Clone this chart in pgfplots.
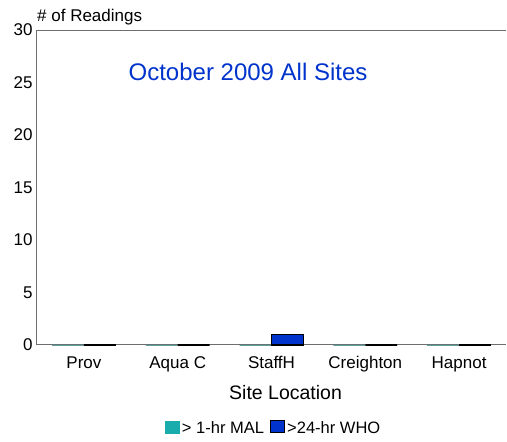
\documentclass[border=0pt]{standalone}
\usepackage{pgfplots}
\pgfplotsset{compat=1.18}
\usepackage{fontspec}
\setmainfont{Liberation Sans}
\definecolor{tealc}{RGB}{26,172,172}
\definecolor{bluec}{RGB}{0,51,204}
\definecolor{axgray}{RGB}{110,110,110}
\begin{document}
\begin{tikzpicture}[x=1pt,y=1pt]
\useasboundingbox (0,0) rectangle (507,442);
\begin{axis}[
  at={(37pt,97pt)}, anchor=south west,
  scale only axis, width=469pt, height=315pt,
  xmin=-0.5, xmax=4.5, ymin=0, ymax=30,
  ytick={0,5,...,30},
  xtick={0,1,2,3,4},
  xticklabels={Prov,Aqua C,StaffH,Creighton,Hapnot},
  major tick length=0pt,
  axis x line*=bottom, axis y line*=left,
  axis line style={draw=axgray, line width=1pt, -},
  tick label style={font=\fontsize{17}{19}\selectfont},
  /pgf/number format/assume math mode=true,
  yticklabel style={xshift=-1pt},
  xticklabel style={yshift=-8pt},
  xlabel={Site Location},
  xlabel style={font=\fontsize{19.5}{22}\selectfont, at={(rel axis cs:0.53,-0.152)}, anchor=center},
  ybar, bar width=0.34,
  legend style={at={(rel axis cs:0.505,-0.263)}, anchor=center, draw=none, fill=none,
    legend columns=2, font=\fontsize{16.5}{18}\selectfont,
    /tikz/every even column/.append style={column sep=4pt}},
  legend cell align=left,
  clip=false,
]
\addplot[fill=tealc, draw=tealc!60!black, line width=0.6pt, bar shift=-0.17,
  legend image code/.code={\fill[tealc] (0pt,-5pt) rectangle (14pt,7pt);}]
  coordinates {(0,0) (1,0) (2,0) (3,0) (4,0)};
\addlegendentry{> 1-hr MAL}
\addplot[fill=bluec, draw=black, line width=1.6pt, bar shift=0.17,
  legend image code/.code={\draw[fill=bluec, draw=black, line width=1.2pt] (0pt,-5pt) rectangle (14pt,7pt);}]
  coordinates {(0,0) (1,0) (2,1) (3,0) (4,0)};
\addlegendentry{>24-hr WHO}
\draw[axgray, line width=1pt] (rel axis cs:0,1) -- (rel axis cs:1,1);
\node[anchor=south west, font=\fontsize{17}{19}\selectfont, inner sep=0pt] at ([yshift=5pt]rel axis cs:0,1) {\# of Readings};
\node[anchor=center, text=bluec, font=\fontsize{24}{26}\selectfont] at (rel axis cs:0.45,0.867) {October 2009 All Sites};
\end{axis}
\end{tikzpicture}
\end{document}
